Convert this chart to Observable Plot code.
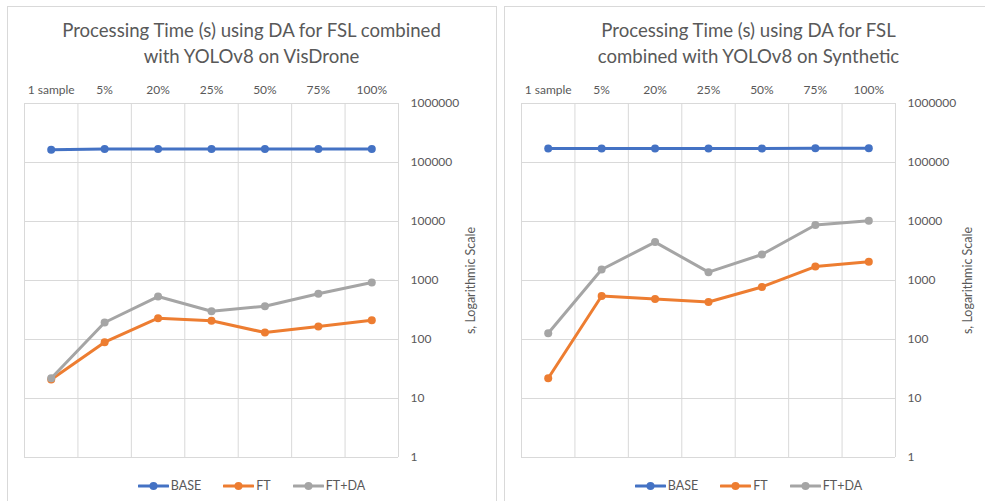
<!DOCTYPE html>
<html>
<head>
<meta charset="utf-8">
<script src="https://cdn.jsdelivr.net/npm/d3@7"></script>
<script src="https://cdn.jsdelivr.net/npm/@observablehq/plot@0.6"></script>
<style>
  html, body { margin: 0; padding: 0; background: #fff; }
  body { width: 985px; height: 501px; overflow: hidden; position: relative; font-family: Lato, "Liberation Sans", sans-serif; color: #595959; }
  .frame { position: absolute; top: 6px; width: 490px; height: 520px; border: 1px solid #d9d9d9; box-sizing: border-box; }
  .chart { position: absolute; top: 0; width: 489px; height: 501px; }
  .title { position: absolute; top: 17px; left: 0; width: 100%; text-align: center; font-size: 18.6px; line-height: 26px; color: #595959; }
  .plot { position: absolute; top: 70px; left: 0; }
  .legend { position: absolute; top: 478px; left: 0; width: 100%; display: flex; justify-content: center; align-items: center; font-size: 12.5px; color: #595959; }
  .legend .item { display: flex; align-items: center; margin: 0 11px; }
  .legend svg { display: block; margin-right: 2px; }
</style>
</head>
<body>
<div class="frame" style="left:7px"></div>
<div class="frame" style="left:504px"></div>
<div class="chart" id="visdrone" style="left:7px"></div>
<div class="chart" id="synthetic" style="left:504px"></div>
<script>
// Training-set sizes along the top axis
const categories = ["1 sample", "5%", "20%", "25%", "50%", "75%", "100%"];
const seriesNames = ["BASE", "FT", "FT+DA"];
const seriesColors = ["#4472C4", "#ED7D31", "#A5A5A5"];
const yTicks = [1, 10, 100, 1000, 10000, 100000, 1000000];
const yLabel = "s, Logarithmic Scale";

// Processing time in seconds, VisDrone
const visdroneBase = [164000, 170000, 170000, 170000, 170000, 170000, 170000];
const visdroneFT = [21, 90, 230, 208, 131, 166, 212];
const visdroneFTDA = [22, 194, 535, 302, 367, 595, 925];

// Processing time in seconds, Synthetic
const syntheticBase = [172000, 172000, 172000, 172000, 172000, 175000, 175000];
const syntheticFT = [22, 547, 487, 433, 778, 1722, 2071];
const syntheticFTDA = [128, 1534, 4480, 1384, 2760, 8717, 10300];

function rows(values, series) {
  return values.map((v, i) => ({i: i + 0.5, v, series, category: categories[i]}));
}

function chart(el, titleLines, seriesValues) {
  const title = document.createElement("div");
  title.className = "title";
  title.innerHTML = titleLines.join("<br>");
  el.appendChild(title);

  const seriesMarks = seriesValues.flatMap((values, k) => {
    const data = rows(values, seriesNames[k]);
    return [
      Plot.line(data, {x: "i", y: "v", stroke: seriesColors[k], strokeWidth: 3, strokeLinecap: "round", strokeLinejoin: "round"}),
      Plot.dot(data, {x: "i", y: "v", fill: seriesColors[k], r: 4, stroke: "none"})
    ];
  });

  const svg = Plot.plot({
    width: 489,
    height: 400,
    marginTop: 33,
    marginBottom: 13,
    marginLeft: 17,
    marginRight: 98,
    style: {fontFamily: "Lato, 'Liberation Sans', sans-serif", fontSize: "12px", color: "#595959", background: "transparent", overflow: "visible"},
    x: {domain: [0, categories.length], axis: null},
    y: {type: "log", domain: [1, 1000000], axis: null},
    marks: [
      Plot.ruleY(yTicks, {stroke: "#d9d9d9", strokeWidth: 1}),
      Plot.ruleX(d3.range(categories.length + 1), {stroke: "#d9d9d9", strokeWidth: 1}),
      Plot.axisX({anchor: "top", ticks: d3.range(categories.length).map(i => i + 0.5), tickFormat: i => categories[Math.floor(i)], tickSize: 0, tickPadding: 10, label: null, fontSize: 12}),
      Plot.axisY({anchor: "right", ticks: yTicks, tickFormat: d => String(d), tickSize: 0, tickPadding: 12, label: null, fontSize: 12}),
      Plot.text([yLabel], {frameAnchor: "right", textAnchor: "middle", lineAnchor: "middle", dx: 72, rotate: -90, fontSize: 12.5, fill: "#595959"}),
      ...seriesMarks
    ]
  });
  svg.classList.add("plot");
  el.appendChild(svg);

  const legend = document.createElement("div");
  legend.className = "legend";
  seriesNames.forEach((name, k) => {
    const item = document.createElement("div");
    item.className = "item";
    item.innerHTML = `<svg width="31" height="10"><line x1="1" y1="5" x2="30" y2="5" stroke="${seriesColors[k]}" stroke-width="3" stroke-linecap="round"/><circle cx="15.5" cy="5" r="4" fill="${seriesColors[k]}"/></svg><span>${name}</span>`;
    legend.appendChild(item);
  });
  el.appendChild(legend);
}

chart(document.getElementById("visdrone"),
  ["Processing Time (s) using DA for FSL combined", "with YOLOv8 on VisDrone"],
  [visdroneBase, visdroneFT, visdroneFTDA]);
chart(document.getElementById("synthetic"),
  ["Processing Time (s) using DA for FSL", "combined with YOLOv8 on Synthetic"],
  [syntheticBase, syntheticFT, syntheticFTDA]);
</script>
</body>
</html>
